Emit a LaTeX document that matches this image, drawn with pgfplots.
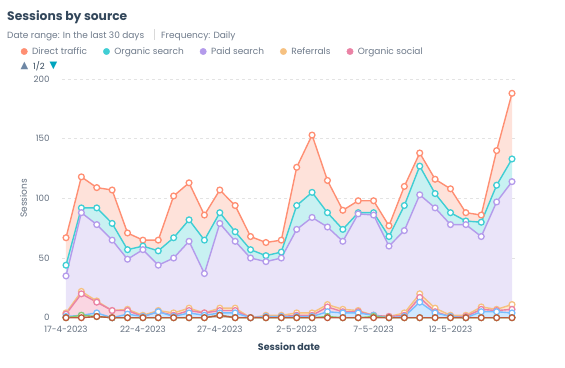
\documentclass[border=0pt]{standalone}
\usepackage{fontspec}
\setmainfont{Poppins}
\newfontfamily\dejavu{DejaVu Sans}
\usepackage{pgfplots}
\usepackage{pgfplotstable}
\pgfplotsset{compat=1.18}

\definecolor{cDirect}{RGB}{255,143,115}
\definecolor{cDirectF}{RGB}{254,226,218}
\definecolor{cOrg}{RGB}{64,206,212}
\definecolor{cOrgF}{RGB}{200,241,242}
\definecolor{cPaid}{RGB}{180,155,235}
\definecolor{cPaidF}{RGB}{234,228,249}
\definecolor{cRef}{RGB}{246,193,129}
\definecolor{cRefF}{RGB}{252,232,208}
\definecolor{cSoc}{RGB}{234,130,165}
\definecolor{cSocF}{RGB}{250,214,226}
\definecolor{cBlue}{RGB}{120,190,255}
\definecolor{cBlueF}{RGB}{208,232,255}
\definecolor{cGreen}{RGB}{140,200,110}
\definecolor{cGreenF}{RGB}{220,240,210}
\definecolor{cBrown}{RGB}{190,90,60}
\definecolor{cBrownF}{RGB}{240,215,205}
\definecolor{cTitle}{RGB}{51,71,91}
\definecolor{cSub}{RGB}{110,122,138}
\definecolor{cTick}{RGB}{100,112,128}
\definecolor{cNavUp}{RGB}{110,135,165}
\definecolor{cNavDn}{RGB}{0,164,189}

\pgfplotstableread{
day brown green blue social ref paid organic direct
0 0 0 1 2 1 31 9 23
1 0 2 0 18 2 66 4 26
2 1 0 3 9 1 64 14 17
3 0 0 0 6 0 59 14 28
4 0 0 3 3 1 42 8 14
5 0 0 1 0 1 55 3 5
6 0 0 5 0 1 38 12 9
7 0 0 1 1 2 46 17 35
8 0 0 4 2 2 56 18 31
9 0 0 2 2 0 33 28 21
10 2 0 2 2 2 71 9 19
11 0 0 4 2 2 56 8 22
12 0 0 0 0 0 50 7 11
13 0 0 1 0 1 45 5 11
14 0 0 1 0 1 48 5 10
15 0 0 1 1 2 70 20 32
16 0 0 1 1 2 80 21 48
17 0 1 4 4 2 65 12 27
18 0 0 4 1 2 57 10 16
19 0 0 4 1 1 81 1 10
20 0 1 1 0 0 84 2 10
21 0 0 0 1 0 59 8 9
22 0 0 1 1 2 69 21 16
23 0 0 13 4 3 83 24 11
24 0 0 4 1 3 84 12 12
25 0 0 1 0 1 76 10 20
26 0 0 0 1 1 76 3 7
27 0 0 5 2 2 59 12 6
28 0 0 5 1 1 90 14 29
29 0 0 4 3 4 103 19 55
}\data

\pgfplotsset{
  base/.style={
    scale only axis, width=454pt, height=238.7pt,
    xmin=-0.26, xmax=29.26, ymin=0, ymax=200,
    at={(62pt,49.3pt)}, anchor=south west,
    stack plots=y,
  },
  ln/.style={line width=1.4pt, mark=*, mark size=2.9pt,
    mark options={fill=white, line width=1.3pt}},
}

\begin{document}
\begin{tikzpicture}
\useasboundingbox (0,0) rectangle (565pt,367pt);

\begin{axis}[base,
  axis x line=bottom, axis y line=left,
  y axis line style={draw=none},
  x axis line style={draw=gray!55, line width=1pt, -},
  major tick length=0pt,
  ymajorgrids, grid style={dashed, gray!22, line width=0.6pt},
  ytick={0,50,100,150,200},
  xtick={0,5,10,15,20,25},
  xticklabels={17-4-2023,22-4-2023,27-4-2023,2-5-2023,7-5-2023,12-5-2023},
  /pgf/number format/assume math mode=true,
  ticklabel style={font=\fontsize{8.7}{10}\selectfont, text=cTick},
  yticklabel style={xshift=-9pt},
  xticklabel style={yshift=-4.5pt},
  ylabel={Sessions},
  ylabel style={at={(axis description cs:-0.085,0.5)}, anchor=center, rotate=0,
    font=\fontsize{9}{10}\selectfont, text=cTick},
  xlabel={Session date},
  xlabel style={at={(axis description cs:0.5,-0.123)}, anchor=center,
    font=\fontsize{9.5}{11}\selectfont\bfseries, text=cTitle},
]
\addplot[draw=none, fill=cBrownF] table[x=day,y=brown]{\data} \closedcycle;
\addplot[draw=none, fill=cGreenF] table[x=day,y=green]{\data} \closedcycle;
\addplot[draw=none, fill=cBlueF] table[x=day,y=blue]{\data} \closedcycle;
\addplot[draw=none, fill=cSocF] table[x=day,y=social]{\data} \closedcycle;
\addplot[draw=none, fill=cRefF] table[x=day,y=ref]{\data} \closedcycle;
\addplot[draw=none, fill=cPaidF] table[x=day,y=paid]{\data} \closedcycle;
\addplot[draw=none, fill=cOrgF] table[x=day,y=organic]{\data} \closedcycle;
\addplot[draw=none, fill=cDirectF] table[x=day,y=direct]{\data} \closedcycle;
\end{axis}

\begin{axis}[base, hide axis, clip=false,
  legend columns=5,
  legend style={draw=none, fill=none, inner sep=0pt, outer sep=0pt,
    at={(axis description cs:-0.0907,1.1152)}, anchor=west,
    font=\fontsize{9}{10}\selectfont, text=cSub,
    nodes={inner sep=0pt},
    /tikz/every odd column/.append style={column sep=4.5pt},
    /tikz/every even column/.append style={column sep=16pt}},
  legend image code/.code={\fill[#1] (3.2pt,0pt) circle (3.2pt);},
]
\addlegendimage{cDirect}\addlegendentry{Direct traffic}
\addlegendimage{cOrg}\addlegendentry{Organic search}
\addlegendimage{cPaid}\addlegendentry{Paid search}
\addlegendimage{cRef}\addlegendentry{Referrals}
\addlegendimage{cSoc}\addlegendentry{Organic social}
\addplot[ln, cBrown, forget plot] table[x=day,y=brown]{\data};
\addplot[ln, cGreen, forget plot] table[x=day,y=green]{\data};
\addplot[ln, cBlue, forget plot] table[x=day,y=blue]{\data};
\addplot[ln, cSoc, forget plot] table[x=day,y=social]{\data};
\addplot[ln, cRef, forget plot] table[x=day,y=ref]{\data};
\addplot[ln, cPaid, forget plot] table[x=day,y=paid]{\data};
\addplot[ln, cOrg, forget plot] table[x=day,y=organic]{\data};
\addplot[ln, cDirect, forget plot] table[x=day,y=direct]{\data};
\end{axis}

\node[anchor=base west, inner sep=0pt, text=cTitle, font=\fontsize{12.3}{15}\selectfont\bfseries] at (7pt,346.5pt) {Sessions by source};
\node[anchor=base west, inner sep=0pt, text=cSub, font=\fontsize{9}{10}\selectfont] at (7pt,328.5pt) {Date range: In the last 30 days};
\draw[gray!30, line width=0.6pt] (154pt,327pt) -- (154pt,338pt);
\node[anchor=base west, inner sep=0pt, text=cSub, font=\fontsize{9}{10}\selectfont] at (161pt,328.5pt) {Frequency: Daily};
\node[anchor=west, inner sep=0pt, text=cNavUp, font=\dejavu\fontsize{10}{10}\selectfont] at (20.5pt,301pt) {▲};
\node[anchor=west, inner sep=0pt, text=cTitle, font=\fontsize{8.5}{10}\selectfont] at (33pt,301pt) {1/2};
\node[anchor=west, inner sep=0pt, text=cNavDn, font=\dejavu\fontsize{10}{10}\selectfont] at (49.5pt,301pt) {▼};
\end{tikzpicture}
\end{document}
